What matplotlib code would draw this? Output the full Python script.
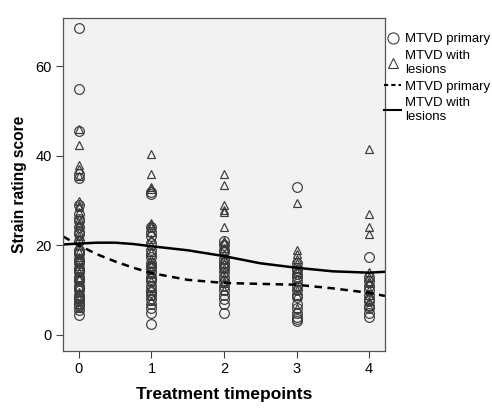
import matplotlib
matplotlib.use("Agg")
import matplotlib.pyplot as plt
from matplotlib.lines import Line2D
import numpy as np

plt.rcParams['font.family'] = ['Liberation Sans', 'DejaVu Sans']

timepoints = [0, 1, 2, 3, 4]
tick_labels = ["0", "1", "2", "3", "4"]

primary_t0 = [68.5, 55, 45.5, 36, 35, 29, 27, 26, 25.5, 24, 23, 22.5, 21, 19, 18.5, 18, 17, 16.5, 16, 15, 14.5, 14, 13, 12.5, 12, 11, 10.5, 10, 9, 8.5, 8, 7.5, 7, 6.5, 5.5, 4.5]
primary_t1 = [32, 31.5, 24, 23, 22, 20.5, 19, 18, 17.5, 16, 15.5, 15, 14, 13, 12.5, 12, 11, 10, 9.5, 9, 8, 7, 6, 5, 2.5]
primary_t2 = [21, 20, 19, 18.5, 17, 16, 15.5, 15, 14, 13, 12, 11, 10, 9, 8, 7, 5]
primary_t3 = [33, 16, 15, 14.5, 13.5, 13, 12, 11, 10, 9, 8.5, 7, 6, 5, 4, 3.5, 3]
primary_t4 = [17.5, 13, 12, 11, 10, 9, 8, 7.5, 6.5, 6, 5, 4]

lesions_t0 = [46, 42.5, 38, 37, 35.5, 30, 29, 28.5, 27.5, 26, 25, 24.5, 23, 22, 21.5, 20, 18.5, 17.5, 16.5, 15.5, 14, 13, 12.5, 11, 9.5, 8, 7, 6]
lesions_t1 = [40.5, 36, 33, 32.5, 25, 24.5, 24, 23, 21.5, 20, 18.5, 17, 16, 15.5, 14.5, 13.5, 12, 10.5, 9, 7.5]
lesions_t2 = [36, 33.5, 29, 28, 27.5, 24, 21, 20.5, 19.5, 18, 17, 16, 15, 14, 13, 12, 11.5, 10]
lesions_t3 = [29.5, 19, 18, 17, 16, 15, 14, 12.5, 11, 10, 9, 6]
lesions_t4 = [41.5, 27, 24, 22.5, 14, 13, 12, 11.5, 10, 9, 7.5, 6.5]

fit_x = [-0.22, 0, 0.25, 0.5, 0.75, 1, 1.5, 2, 2.5, 3, 3.5, 4, 4.22]
fit_primary = [22.0, 20.0, 18.0, 16.4, 15.0, 13.8, 12.3, 11.6, 11.4, 11.2, 10.4, 9.4, 8.7]
fit_lesions = [20.2, 20.4, 20.6, 20.6, 20.3, 19.8, 18.9, 17.6, 16.0, 15.0, 14.2, 13.9, 14.1]

primary = [primary_t0, primary_t1, primary_t2, primary_t3, primary_t4]
lesions = [lesions_t0, lesions_t1, lesions_t2, lesions_t3, lesions_t4]

fig = plt.figure(figsize=(4.92, 4.11), dpi=100)
ax = fig.add_axes([63/492, 60/411, (385-63)/492, (351-18)/411])
ax.set_facecolor('#f2f2f2')

edge = '#3a3a3a'
for t, vals in zip(timepoints, primary):
    ax.plot([t]*len(vals), vals, linestyle='none', marker='o', markersize=7,
            markerfacecolor='none', markeredgecolor=edge, markeredgewidth=0.85)
for t, vals in zip(timepoints, lesions):
    ax.plot([t]*len(vals), vals, linestyle='none', marker='^', markersize=6,
            markerfacecolor='none', markeredgecolor=edge, markeredgewidth=0.85)

ax.plot(fit_x, fit_primary, color='black', linestyle=(0, (3, 2.2)), linewidth=1.8)
ax.plot(fit_x, fit_lesions, color='black', linestyle='-', linewidth=1.8)

ax.set_xlim(-0.22, 4.22)
ax.set_ylim(-3.6, 70.8)
ax.set_xticks(timepoints)
ax.set_xticklabels(tick_labels)
ax.set_yticks([0, 20, 40, 60])
ax.tick_params(axis='both', direction='out', length=5, width=0.8, color='#444444',
               labelsize=10.5, pad=3)
for s in ax.spines.values():
    s.set_color('#555555')
    s.set_linewidth(0.9)

ax.set_xlabel('Treatment timepoints', fontsize=12.5, fontweight='bold', labelpad=8)
ax.set_ylabel('Strain rating score', fontsize=11.2, fontweight='bold', labelpad=6)

handles = [
    Line2D([], [], linestyle='none', marker='o', markersize=8, markerfacecolor='none',
           markeredgecolor=edge, markeredgewidth=0.8),
    Line2D([], [], linestyle='none', marker='^', markersize=7, markerfacecolor='none',
           markeredgecolor=edge, markeredgewidth=0.8),
    Line2D([], [], color='black', linestyle=(0, (2, 1.5)), linewidth=1.5),
    Line2D([], [], color='black', linestyle='-', linewidth=1.5),
]
labels = ['MTVD primary', 'MTVD with\nlesions', 'MTVD primary', 'MTVD with\nlesions']
fig.legend(handles, labels, loc='upper left', bbox_to_anchor=(384/492, 1 - 33/411),
           frameon=False, fontsize=9.5, handlelength=1.3, handletextpad=0.3,
           labelspacing=0.35, borderaxespad=0, borderpad=0)

fig.savefig('out.png', dpi=100)
